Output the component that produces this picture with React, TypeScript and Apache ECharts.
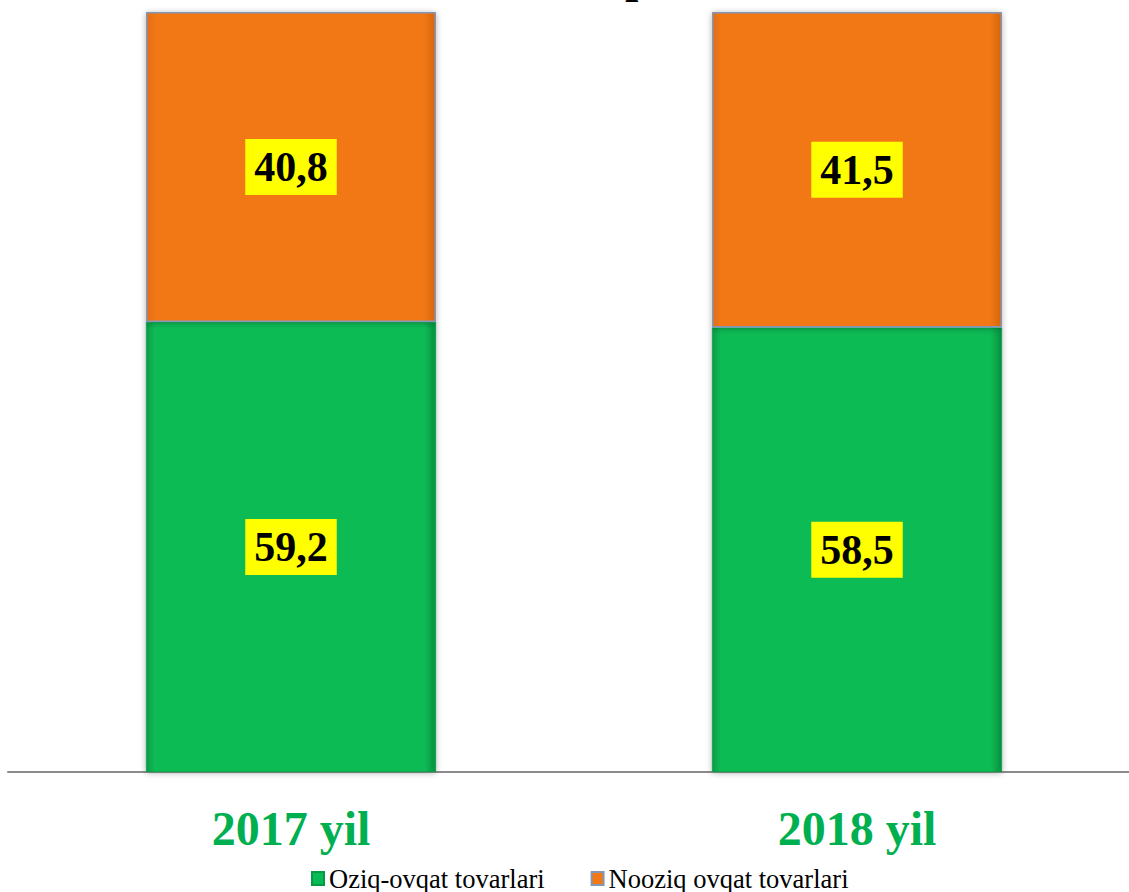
import React, { useEffect, useRef } from "react";
import * as echarts from "echarts";

const categories = ["2017 yil", "2018 yil"];
const oziqValues = [59.2, 58.5];
const noziqValues = [40.8, 41.5];
const seriesNames = ["Oziq-ovqat tovarlari", "Nooziq ovqat tovarlari"];

const SERIF = '"Times New Roman", "Liberation Serif", serif';

function hGrad(edge: string, mid: string, edge2: string) {
  return new echarts.graphic.LinearGradient(0, 0, 1, 0, [
    { offset: 0, color: edge },
    { offset: 0.03, color: mid },
    { offset: 0.96, color: mid },
    { offset: 1, color: edge2 },
  ]);
}

export default function App() {
  const ref = useRef<HTMLDivElement>(null);
  useEffect(() => {
    if (!ref.current) return;
    const chart = echarts.init(ref.current, undefined, { renderer: "svg" });
    const label = {
      show: true,
      position: "inside",
      fontFamily: SERIF,
      fontSize: 42,
      fontWeight: "bold",
      color: "#000",
      backgroundColor: "#FFFF00",
      padding: [6, 9, 4, 9],
      lineHeight: 46,
      formatter: (p: any) => String(p.value).replace(".", ","),
    };
    chart.setOption({
      animation: false,
      backgroundColor: "#fff",
      grid: { left: 8, right: 0, top: 12, bottom: 120, containLabel: false },
      legend: {
        data: seriesNames,
        left: 306,
        top: 860,
        icon: "rect",
        itemWidth: 12,
        itemHeight: 13,
        itemGap: 46,
        textStyle: { fontFamily: SERIF, fontSize: 26.5, color: "#000", lineHeight: 26 },
      },
      graphic: [
        {
          type: "text",
          x: 625,
          y: -25,
          style: {
            text: "p",
            fontFamily: SERIF,
            fontSize: 48,
            fontWeight: "bold",
            fill: "#000",
            verticalAlign: "middle",
            align: "left",
          },
        },
      ],
      xAxis: {
        type: "category",
        data: categories,
        axisLine: { show: true, lineStyle: { color: "#8C8C8C", width: 2 } },
        axisTick: { show: false },
        axisLabel: {
          margin: 32,
          fontFamily: SERIF,
          fontSize: 48,
          lineHeight: 48,
          fontWeight: "bold",
          color: "#00B050",
        },
      },
      yAxis: {
        type: "value",
        min: 0,
        max: 100,
        show: false,
        splitLine: { show: false },
      },
      series: [
        {
          name: seriesNames[0],
          type: "bar",
          stack: "total",
          barWidth: 290,
          data: oziqValues,
          itemStyle: {
            color: hGrad("#079A45", "#08BB55", "#06903F"),
            borderColor: "#079A45",
            borderWidth: 0.5,
            shadowBlur: 6,
            shadowColor: "rgba(0,0,0,0.3)",
            shadowOffsetX: 0,
            shadowOffsetY: 1,
          },
          label,
        },
        {
          name: seriesNames[1],
          type: "bar",
          stack: "total",
          barWidth: 290,
          data: noziqValues,
          itemStyle: {
            color: hGrad("#E06E12", "#F27814", "#D6660E"),
            borderColor: "#8497B8",
            borderWidth: 1.5,
            shadowBlur: 6,
            shadowColor: "rgba(0,0,0,0.3)",
            shadowOffsetX: 0,
            shadowOffsetY: 1,
          },
          label,
        },
      ],
    });
    return () => chart.dispose();
  }, []);
  return (
    <div
      style={{
        position: "absolute",
        left: 0,
        top: 0,
        width: 1129,
        height: 892,
        overflow: "hidden",
      }}
    >
      <div ref={ref} style={{ width: 1140, height: 892 }} />
    </div>
  );
}
